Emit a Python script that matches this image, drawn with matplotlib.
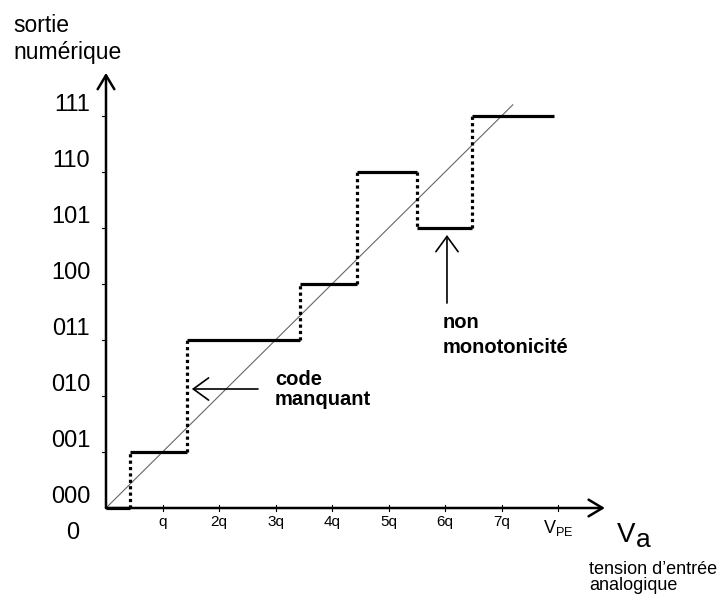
import matplotlib
matplotlib.use("Agg")
import matplotlib.pyplot as plt

plt.rcParams['font.family'] = ['Liberation Sans', 'DejaVu Sans']

# codes de sortie et seuils de transition (en unités de q)
codes = ['000', '001', '011', '100', '110', '101', '111']
levels = [0, 1, 3, 4, 6, 5, 7]
edges = [0, 0.43, 1.43, 3.43, 4.45, 5.5, 6.48, 7.93]

y_labels = ['000', '001', '010', '011', '100', '101', '110', '111']
x_labels = ['q', '2q', '3q', '4q', '5q', '6q', '7q', r'V$_{\mathregular{PE}}$']
diag_end = 7.2

fig = plt.figure(figsize=(7.19, 5.99), dpi=100)
ax = fig.add_axes([0, 0, 1, 1])
# 1 q = 56.5 px, 1 code = 56 px, origine en (106, 508)
ax.set_xlim(-106 / 56.5, (719 - 106) / 56.5)
ax.set_ylim((508 - 599) / 56, 508 / 56)
ax.axis('off')

# -------------------------------
# axes avec flèches
# -------------------------------
arr = dict(arrowstyle='->,head_length=10,head_width=6', lw=1.8, color='black',
           shrinkA=0, shrinkB=0, mutation_scale=1)
ax.annotate('', xy=(8.83, 0), xytext=(0, 0), arrowprops=arr)
ax.annotate('', xy=(0, 7.77), xytext=(0, 0), arrowprops=arr)

# graduations
for i, lab in enumerate(y_labels):
    if i > 0:
        ax.plot([-0.07, 0], [i, i], color='black', lw=0.8)
    ax.text(-0.28, i + 0.19, lab, ha='right', va='center', fontsize=17)

for i, lab in enumerate(x_labels, start=1):
    ax.plot([i, i], [0.055, -0.06], color='black', lw=0.8)
    if i < 8:
        ax.text(i, -0.13, lab, ha='center', va='top', fontsize=11)
    else:
        ax.text(i, -0.17, lab, ha='center', va='top', fontsize=13)

ax.text(-0.584, -0.446, '0', ha='center', va='center', fontsize=17)

# -------------------------------
# droite idéale
# -------------------------------
ax.plot([0, diag_end], [0, diag_end], color='#666666', lw=0.8)

# -------------------------------
# caractéristique en escalier
# -------------------------------
for k, lev in enumerate(levels):
    ax.plot([edges[k], edges[k + 1]], [lev, lev], color='black', lw=2.3,
            solid_capstyle='butt')
    if k > 0:
        ax.plot([edges[k], edges[k]], [levels[k - 1], lev], color='black',
                lw=2.3, linestyle=(0, (1, 1)))

# -------------------------------
# textes
# -------------------------------
ax.text(-1.646, 8.5, 'sortie', ha='left', va='baseline', fontsize=16.5)
ax.text(-1.646, 8.018, 'numérique', ha='left', va='baseline', fontsize=16.5)

ax.text(9.04, -0.607, 'V', ha='left', va='baseline', fontsize=20)
ax.text(9.37, -0.70, 'a', ha='left', va='baseline', fontsize=19)
ax.text(8.55, -1.18, 'tension d’entrée', ha='left', va='baseline', fontsize=13)
ax.text(8.55, -1.46, 'analogique', ha='left', va='baseline', fontsize=13)

note = dict(arrowstyle='->,head_length=11,head_width=8', lw=1.2, color='black',
            shrinkA=0, shrinkB=0, mutation_scale=1)
ax.annotate('', xy=(1.52, 2.125), xytext=(2.69, 2.125), arrowprops=note)
ax.text(2.99, 2.196, 'code', ha='left', va='baseline', fontsize=14.5, fontweight='bold')
ax.text(2.99, 1.84, 'manquant', ha='left', va='baseline', fontsize=14.5, fontweight='bold')

ax.annotate('', xy=(6.035, 4.875), xytext=(6.035, 3.66), arrowprops=note)
ax.text(5.965, 3.214, 'non', ha='left', va='baseline', fontsize=14.5, fontweight='bold')
ax.text(5.965, 2.768, 'monotonicité', ha='left', va='baseline', fontsize=14.5, fontweight='bold')

fig.savefig('out.png', dpi=100)
